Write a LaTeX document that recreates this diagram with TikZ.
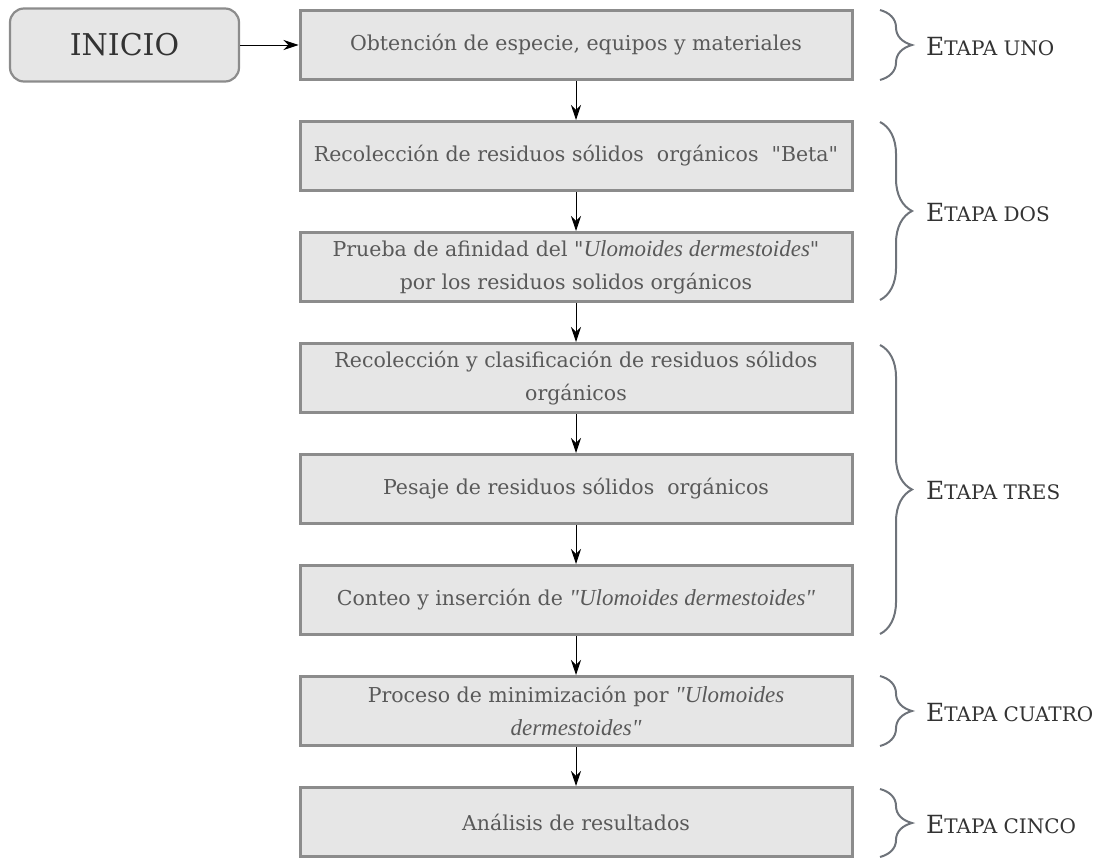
\documentclass[tikz,border=0pt]{standalone}
\usepackage{fontspec}
\setmainfont{DejaVu Serif}[Ligatures=TeXOff]
\newfontfamily\slabfont{DejaVu Serif}[Ligatures=TeXOff]
\newfontfamily\itserif{Liberation Serif}[Ligatures=TeXOff,Scale=1.12]
\usetikzlibrary{arrows.meta,decorations.pathreplacing}
\definecolor{boxfill}{HTML}{E6E6E6}
\definecolor{boxline}{HTML}{8C8C8C}
\definecolor{txt}{HTML}{595959}
\definecolor{bracecol}{HTML}{6E737A}
\tikzset{
  stepbox/.style={draw=boxline, line width=3pt, fill=boxfill, minimum width=552pt, minimum height=69pt, inner sep=1pt, align=center, text=txt, font=\fontsize{20.5}{33}\selectfont},
  startbox/.style={draw=boxline, line width=2.2pt, fill=boxfill, rounded corners=14pt, minimum width=229pt, minimum height=73pt, text=black!80, font=\slabfont\fontsize{30}{30}\selectfont},
  flow/.style={-{Stealth[length=15pt,width=10pt]}, line width=0.9pt, black},
  stagebrace/.style={decorate, decoration={brace, amplitude=32pt}, draw=bracecol, line width=2pt},
  stagelabel/.style={anchor=west, inner sep=0pt, text=black!80, font=\slabfont}
}
\newcommand{\etapa}[1]{{\fontsize{25}{25}\selectfont E}{\fontsize{20}{20}\selectfont #1}}
\newcommand{\ulo}[1]{{\itserif\itshape #1}}
\begin{document}
\begin{tikzpicture}[x=1pt,y=-1pt]
\useasboundingbox (0,0) rectangle (1094,859);
\node[startbox] (ini) at (124.5,45) {INICIO};
\node[stepbox] (b1) at (576,45) {Obtención de especie, equipos y materiales};
\node[stepbox] (b2) at (576,156) {Recolección de residuos sólidos\ \ orgánicos\ \ "Beta"};
\node[stepbox] (b3) at (576,267) {Prueba de afinidad del "\ulo{Ulomoides dermestoides}"\\por los residuos solidos orgánicos};
\node[stepbox] (b4) at (576,378) {Recolección y clasificación de residuos sólidos\\orgánicos};
\node[stepbox] (b5) at (576,489) {Pesaje de residuos sólidos\ \ orgánicos};
\node[stepbox] (b6) at (576,600) {Conteo y inserción de \ulo{"Ulomoides dermestoides"}};
\node[stepbox] (b7) at (576,711) {Proceso de minimización por \ulo{"Ulomoides}\\\ulo{dermestoides"}};
\node[stepbox] (b8) at (576,822) {Análisis de resultados};
\draw[flow] (ini) -- (b1);
\draw[flow] (b1) -- (b2);
\draw[flow] (b2) -- (b3);
\draw[flow] (b3) -- (b4);
\draw[flow] (b4) -- (b5);
\draw[flow] (b5) -- (b6);
\draw[flow] (b6) -- (b7);
\draw[flow] (b7) -- (b8);
\coordinate (u1) at (880,10); \coordinate (u2) at (880,80);
\coordinate (d1) at (880,122); \coordinate (d2) at (880,300);
\coordinate (t1) at (880,345); \coordinate (t2) at (880,634);
\coordinate (c1) at (880,676); \coordinate (c2) at (880,746);
\coordinate (k1) at (880,789); \coordinate (k2) at (880,857);
\draw[stagebrace] (u1) -- (u2);
\draw[stagebrace] (d1) -- (d2);
\draw[stagebrace] (t1) -- (t2);
\draw[stagebrace] (c1) -- (c2);
\draw[stagebrace] (k1) -- (k2);
\node[stagelabel] (l1) at (926,47) {\etapa{TAPA UNO}};
\node[stagelabel] (l2) at (926,213) {\etapa{TAPA DOS}};
\node[stagelabel] (l3) at (926,491) {\etapa{TAPA TRES}};
\node[stagelabel] (l4) at (926,713) {\etapa{TAPA CUATRO}};
\node[stagelabel] (l5) at (926,825) {\etapa{TAPA CINCO}};
\end{tikzpicture}
\end{document}
